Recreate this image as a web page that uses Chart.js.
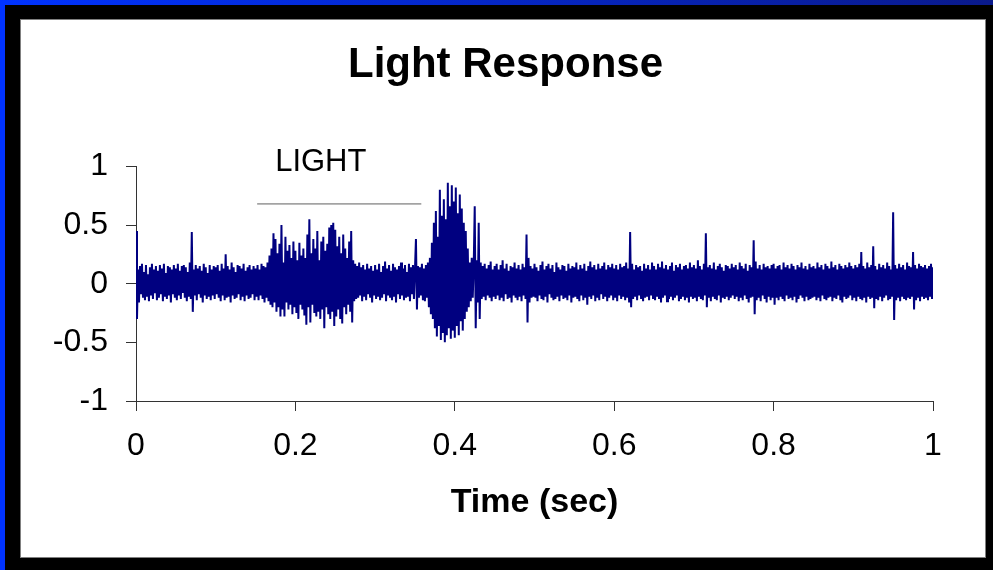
<!DOCTYPE html>
<html>
<head>
<meta charset="utf-8">
<title>Light Response</title>
<script src="https://cdn.jsdelivr.net/npm/chart.js"></script>
<style>
  html, body { margin: 0; padding: 0; background: #000; }
  #frame { position: relative; width: 993px; height: 570px; background: #000; overflow: hidden; }
  #topStrip { position: absolute; left: 0; top: 0; width: 993px; height: 5px;
              background: linear-gradient(to right, #0033ff, #0a1a8c); }
  #leftStrip { position: absolute; left: 0; top: 0; width: 5px; height: 570px; background: #0033ff; }
  #panel { position: absolute; left: 20px; top: 19px; width: 964px; height: 537px;
           background: #fff; border: 1px solid #808080; }
  #chart { position: absolute; left: 0; top: 0; }
</style>
</head>
<body>
<div id="frame">
  <div id="topStrip"></div>
  <div id="leftStrip"></div>
  <div id="panel"></div>
  <canvas id="chart" width="993" height="570"></canvas>
</div>
<script>
// one second of recording, 40 samples per row (50 ms)
const signal = [
  0.45, -0.30, 0.12, -0.16, 0.15, -0.09, 0.17, -0.12, 0.10, -0.14, 0.16, -0.11, 0.08, -0.15, 0.14, -0.10, 0.17, -0.13, 0.12, -0.08, 0.15, -0.14, 0.11, -0.12, 0.16, -0.09, 0.13, -0.15, 0.17, -0.11, 0.09, -0.13, 0.15, -0.10, 0.14, -0.16, 0.12, -0.09, 0.16, -0.12,
  0.13, -0.14, 0.17, -0.10, 0.11, -0.13, 0.15, -0.08, 0.16, -0.12, 0.14, -0.15, 0.10, -0.11, 0.18, -0.13, 0.44, -0.24, 0.12, -0.10, 0.16, -0.14, 0.13, -0.09, 0.15, -0.12, 0.11, -0.16, 0.17, -0.10, 0.14, -0.13, 0.09, -0.11, 0.16, -0.14, 0.12, -0.10, 0.15, -0.13,
  0.14, -0.09, 0.16, -0.12, 0.11, -0.15, 0.17, -0.10, 0.13, -0.14, 0.25, -0.12, 0.15, -0.11, 0.12, -0.16, 0.18, -0.10, 0.14, -0.13, 0.10, -0.12, 0.16, -0.09, 0.15, -0.14, 0.13, -0.11, 0.17, -0.15, 0.11, -0.10, 0.14, -0.13, 0.16, -0.12, 0.12, -0.09, 0.15, -0.14,
  0.13, -0.11, 0.16, -0.14, 0.12, -0.10, 0.17, -0.13, 0.15, -0.16, 0.14, -0.12, 0.18, -0.15, 0.24, -0.18, 0.30, -0.20, 0.43, -0.16, 0.38, -0.24, 0.26, -0.20, 0.34, -0.28, 0.50, -0.22, 0.18, -0.28, 0.40, -0.16, 0.28, -0.22, 0.33, -0.18, 0.22, -0.26, 0.36, -0.20,
  0.28, -0.25, 0.20, -0.30, 0.35, -0.18, 0.24, -0.22, 0.30, -0.27, 0.22, -0.35, 0.42, -0.20, 0.55, -0.33, 0.26, -0.18, 0.38, -0.25, 0.30, -0.28, 0.45, -0.24, 0.20, -0.30, 0.36, -0.22, 0.40, -0.38, 0.28, -0.20, 0.34, -0.26, 0.48, -0.30, 0.50, -0.24, 0.52, -0.36,
  0.46, -0.28, 0.32, -0.22, 0.40, -0.30, 0.26, -0.34, 0.42, -0.20, 0.30, -0.26, 0.22, -0.18, 0.36, -0.24, 0.45, -0.33, 0.20, -0.15, 0.17, -0.13, 0.15, -0.12, 0.18, -0.10, 0.14, -0.15, 0.16, -0.11, 0.12, -0.14, 0.17, -0.09, 0.13, -0.12, 0.15, -0.16, 0.11, -0.10,
  0.16, -0.13, 0.12, -0.11, 0.17, -0.14, 0.10, -0.12, 0.15, -0.09, 0.19, -0.15, 0.13, -0.10, 0.16, -0.12, 0.11, -0.14, 0.17, -0.11, 0.14, -0.16, 0.12, -0.09, 0.15, -0.13, 0.18, -0.10, 0.13, -0.14, 0.16, -0.12, 0.10, -0.11, 0.17, -0.15, 0.14, -0.09, 0.16, -0.13,
  0.12, 0.38, -0.22, 0.15, -0.12, 0.14, -0.10, 0.17, -0.14, 0.13, -0.15, 0.16, -0.12, 0.18, -0.20, 0.22, -0.26, 0.35, -0.30, 0.52, -0.38, 0.62, -0.45, 0.40, -0.36, 0.80, -0.48, 0.58, -0.42, 0.72, -0.50, 0.55, -0.44, 0.86, -0.38, 0.66, -0.47, 0.84, -0.40, 0.70,
  -0.46, 0.82, -0.36, 0.60, -0.44, 0.76, -0.32, 0.64, -0.40, 0.52, -0.30, 0.45, -0.24, 0.30, -0.20, 0.18, -0.15, 0.22, -0.12, 0.16, 0.66, -0.38, 0.20, -0.16, 0.52, -0.30, 0.18, -0.13, 0.15, -0.11, 0.17, -0.14, 0.13, -0.10, 0.16, -0.12, 0.19, -0.15, 0.12, -0.11,
  0.15, -0.13, 0.17, -0.10, 0.12, -0.14, 0.16, -0.12, 0.20, -0.15, 0.13, -0.09, 0.17, -0.13, 0.11, -0.12, 0.15, -0.16, 0.14, -0.10, 0.18, -0.12, 0.13, -0.14, 0.16, -0.11, 0.12, -0.15, 0.17, -0.10, 0.14, -0.13, 0.42, -0.33, 0.22, -0.16, 0.15, -0.12, 0.13, -0.11,
  0.17, -0.12, 0.14, -0.15, 0.11, -0.10, 0.16, -0.13, 0.19, -0.14, 0.12, -0.11, 0.15, -0.16, 0.17, -0.09, 0.13, -0.12, 0.16, -0.14, 0.10, -0.13, 0.18, -0.11, 0.14, -0.15, 0.12, -0.10, 0.16, -0.13, 0.15, -0.12, 0.11, -0.14, 0.17, -0.10, 0.13, -0.16, 0.15, -0.12,
  0.14, -0.11, 0.18, -0.13, 0.12, -0.15, 0.16, -0.10, 0.13, -0.14, 0.17, -0.12, 0.11, -0.18, 0.15, -0.11, 0.19, -0.13, 0.14, -0.10, 0.16, -0.15, 0.12, -0.12, 0.17, -0.14, 0.13, -0.09, 0.15, -0.13, 0.18, -0.11, 0.12, -0.15, 0.16, -0.12, 0.14, -0.10, 0.17, -0.14,
  0.13, -0.12, 0.16, -0.15, 0.12, -0.10, 0.17, -0.13, 0.14, -0.11, 0.15, -0.14, 0.18, -0.12, 0.13, -0.16, 0.44, -0.20, 0.17, -0.13, 0.12, -0.11, 0.16, -0.14, 0.14, -0.10, 0.15, -0.13, 0.11, -0.15, 0.17, -0.12, 0.13, -0.11, 0.16, -0.14, 0.12, -0.10, 0.18, -0.13,
  0.15, -0.14, 0.12, -0.11, 0.17, -0.13, 0.14, -0.16, 0.19, -0.12, 0.13, -0.10, 0.16, -0.15, 0.12, -0.13, 0.15, -0.11, 0.18, -0.14, 0.11, -0.12, 0.16, -0.10, 0.14, -0.15, 0.17, -0.13, 0.12, -0.11, 0.15, -0.14, 0.16, -0.12, 0.13, -0.16, 0.18, -0.11, 0.14, -0.13,
  0.16, -0.12, 0.13, -0.15, 0.20, -0.11, 0.15, -0.13, 0.12, -0.14, 0.17, -0.10, 0.43, -0.20, 0.14, -0.12, 0.16, -0.15, 0.13, -0.11, 0.18, -0.13, 0.12, -0.14, 0.15, -0.10, 0.17, -0.16, 0.14, -0.12, 0.11, -0.13, 0.16, -0.11, 0.15, -0.14, 0.13, -0.12, 0.17, -0.10,
  0.14, -0.13, 0.16, -0.11, 0.12, -0.15, 0.18, -0.12, 0.15, -0.14, 0.13, -0.10, 0.17, -0.13, 0.11, -0.16, 0.16, -0.12, 0.14, -0.11, 0.37, -0.26, 0.19, -0.14, 0.13, -0.12, 0.16, -0.15, 0.12, -0.10, 0.17, -0.13, 0.14, -0.16, 0.15, -0.11, 0.13, -0.14, 0.16, -0.12,
  0.17, -0.18, 0.13, -0.12, 0.15, -0.14, 0.16, -0.11, 0.12, -0.13, 0.18, -0.15, 0.14, -0.10, 0.16, -0.13, 0.13, -0.12, 0.17, -0.14, 0.15, -0.11, 0.12, -0.16, 0.16, -0.13, 0.14, -0.10, 0.18, -0.12, 0.13, -0.15, 0.15, -0.11, 0.12, -0.14, 0.17, -0.13, 0.14, -0.12,
  0.15, -0.11, 0.13, -0.14, 0.18, -0.12, 0.14, -0.15, 0.16, -0.10, 0.12, -0.13, 0.17, -0.14, 0.15, -0.12, 0.13, -0.11, 0.19, -0.15, 0.14, -0.12, 0.16, -0.13, 0.12, -0.10, 0.17, -0.14, 0.15, -0.16, 0.13, -0.11, 0.16, -0.13, 0.14, -0.12, 0.18, -0.10, 0.15, -0.14,
  0.13, -0.12, 0.16, -0.15, 0.14, -0.11, 0.17, -0.13, 0.27, -0.14, 0.15, -0.12, 0.13, -0.16, 0.18, -0.11, 0.14, -0.13, 0.16, -0.12, 0.32, -0.21, 0.15, -0.13, 0.12, -0.14, 0.17, -0.11, 0.14, -0.15, 0.16, -0.12, 0.13, -0.10, 0.18, -0.14, 0.15, -0.13, 0.12, -0.11,
  0.61, -0.31, 0.16, -0.14, 0.13, -0.12, 0.17, -0.15, 0.14, -0.11, 0.16, -0.13, 0.12, -0.14, 0.18, -0.12, 0.15, -0.13, 0.14, -0.11, 0.27, -0.22, 0.16, -0.14, 0.13, -0.12, 0.17, -0.15, 0.15, -0.11, 0.14, -0.13, 0.16, -0.12, 0.13, -0.14, 0.15, -0.11, 0.17, -0.13,
  0.14
];
const duration = 1;
const sampleStep = duration / (signal.length - 1);

// stimulus bar: light on/off times (s) and the level it is drawn at
const lightTimes = [0.152, 0.358];
const lightLevel = 0.68;
const lightText = 'LIGHT';

const yTicks = [-1, -0.5, 0, 0.5, 1];

const FONT = '"Liberation Sans", Arial, Helvetica, sans-serif';

const tracePoints = signal.map((v, i) => ({ x: i * sampleStep, y: v }));
const lightPoints = lightTimes.map(t => ({ x: t, y: lightLevel }));

// writes the LIGHT label above the stimulus bar, a little right of light onset
const lightLabel = {
  id: 'lightLabel',
  afterDatasetsDraw(chart) {
    const { ctx, scales: { x, y } } = chart;
    const left = x.getPixelForValue(lightTimes[0]) + 18;
    const cy = y.getPixelForValue(lightLevel) - 41;
    ctx.save();
    ctx.font = '31px ' + FONT;
    ctx.fillStyle = '#000';
    ctx.textAlign = 'left';
    ctx.textBaseline = 'middle';
    ctx.fillText(lightText, left, cy);
    ctx.restore();
  }
};

new Chart(document.getElementById('chart'), {
  type: 'line',
  data: {
    datasets: [
      {
        data: tracePoints,
        borderColor: '#000080',
        borderWidth: 2,
        pointRadius: 0,
        tension: 0,
        fill: false
      },
      {
        data: lightPoints,
        borderColor: '#606060',
        borderWidth: 1,
        pointRadius: 0,
        fill: false
      }
    ]
  },
  options: {
    responsive: false,
    animation: false,
    devicePixelRatio: 1,
    layout: { padding: { left: 44, right: 26, top: 20, bottom: 40 } },
    plugins: {
      legend: { display: false },
      tooltip: { enabled: false },
      title: {
        display: true,
        text: 'Light Response',
        color: '#000',
        font: { family: FONT, size: 42, weight: 'bold' },
        padding: { top: 20, bottom: 76 }
      }
    },
    scales: {
      x: {
        type: 'linear',
        min: 0,
        max: 1,
        afterFit(s) { s.height = 129; },
        border: { display: true, color: '#333', width: 1 },
        grid: { drawOnChartArea: false, drawTicks: true, tickLength: 10, color: '#333' },
        ticks: {
          stepSize: 0.2,
          padding: 16,
          color: '#000',
          font: { family: FONT, size: 32 },
          maxRotation: 0,
          callback: v => String(Math.round(v * 10) / 10)
        },
        title: {
          display: true,
          text: 'Time (sec)',
          color: '#000',
          font: { family: FONT, size: 34, weight: 'bold' },
          padding: { top: 0, bottom: 7 }
        }
      },
      y: {
        min: -1,
        max: 1,
        afterFit(s) { s.width = 92; },
        afterBuildTicks(s) { s.ticks = yTicks.map(v => ({ value: v })); },
        border: { display: true, color: '#333', width: 1 },
        grid: { drawOnChartArea: false, drawTicks: true, tickLength: 10, color: '#333' },
        ticks: {
          padding: 18,
          color: '#000',
          font: { family: FONT, size: 32 },
          callback: v => String(v)
        }
      },
      // empty right-hand margin so the plot ends where the panel title is centred
      spacer: {
        position: 'right',
        display: true,
        afterFit(s) { s.width = 34; },
        border: { display: false },
        grid: { display: false },
        ticks: { display: false }
      }
    }
  },
  plugins: [lightLabel]
});
</script>
</body>
</html>
